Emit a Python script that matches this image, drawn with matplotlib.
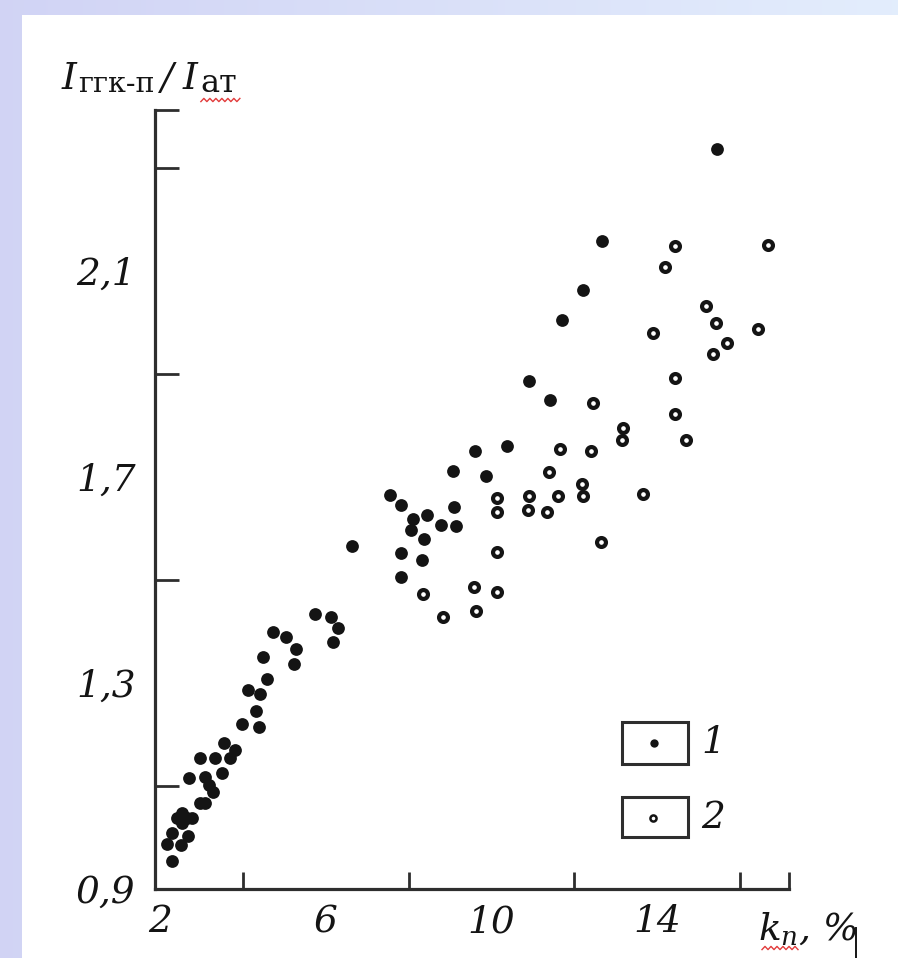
import numpy as np
import matplotlib
matplotlib.use('Agg')
import matplotlib.pyplot as plt
from matplotlib.patches import Rectangle
from matplotlib.lines import Line2D

W, H, DPI = 898, 958, 100

# ---- data ----
# series 1: solid dots
x1 = [2.29, 2.16, 2.50, 2.29, 2.67, 2.41, 2.53, 2.65, 2.77, 2.53,
      2.96, 3.08, 2.70, 3.08, 3.18, 3.28, 3.49, 2.96, 3.32, 3.69,
      3.81, 3.54, 3.98, 4.39, 4.31, 4.12, 4.41, 4.58, 4.48, 4.72,
      5.04, 5.28, 5.23, 5.74, 6.13, 6.29, 6.17, 6.63, 7.55, 7.82,
      8.11, 8.06, 8.44, 8.37, 7.82, 8.32, 7.82, 8.78, 9.14, 9.10,
      9.07, 9.60, 9.87, 10.38, 10.91, 11.42, 11.71, 12.21, 12.67, 15.45]
y1 = [0.954, 0.987, 0.985, 1.009, 1.003, 1.038, 1.048, 1.038, 1.038, 1.028,
      1.067, 1.067, 1.116, 1.117, 1.102, 1.088, 1.125, 1.154, 1.154, 1.154,
      1.170, 1.183, 1.220, 1.215, 1.246, 1.286, 1.279, 1.308, 1.350, 1.399,
      1.389, 1.366, 1.337, 1.434, 1.428, 1.407, 1.380, 1.566, 1.665, 1.646,
      1.618, 1.597, 1.626, 1.580, 1.552, 1.539, 1.506, 1.607, 1.605, 1.642,
      1.712, 1.750, 1.702, 1.760, 1.886, 1.850, 2.005, 2.063, 2.158, 2.337]
# series 2: open circles
x2 = [8.35, 8.83, 9.58, 9.63, 10.14, 10.14, 10.14, 10.14, 10.91, 10.88,
      11.34, 11.61, 11.39, 11.66, 12.19, 12.21, 12.41, 12.45, 12.65, 13.15,
      13.18, 13.66, 13.90, 14.19, 14.43, 14.43, 14.43, 14.70, 15.18, 15.35,
      15.42, 15.69, 16.44, 16.68]
y2 = [1.473, 1.428, 1.486, 1.440, 1.477, 1.554, 1.659, 1.632, 1.663, 1.636,
      1.632, 1.663, 1.710, 1.754, 1.686, 1.663, 1.750, 1.844, 1.574, 1.772,
      1.795, 1.667, 1.980, 2.108, 2.149, 1.892, 1.822, 1.772, 2.032, 1.939,
      1.999, 1.960, 1.987, 2.150]

x_label_ticks = [2, 6, 10, 14]
x_tick_labels = ['2', '6', '10', '14']
x_marks = [4, 6, 8, 10, 12, 14, 16]
y_label_ticks = [0.9, 1.3, 1.7, 2.1]
y_tick_labels = ['0,9', '1,3', '1,7', '2,1']
y_marks = [1.1, 1.3, 1.5, 1.7, 1.9, 2.1, 2.3]
legend_labels = ['1', '2']
XLIM = (1.87, 17.19)
YLIM = (0.9, 2.413)

plt.rcParams['font.family'] = ['DejaVu Serif']
plt.rcParams['mathtext.fontset'] = 'custom'
plt.rcParams['mathtext.it'] = 'DejaVu Serif:italic'
plt.rcParams['mathtext.rm'] = 'DejaVu Serif'

INK = '#141414'
AXC = '#2e2e2e'

fig = plt.figure(figsize=(W / DPI, H / DPI), dpi=DPI)
fig.patch.set_facecolor('white')

# slide background frame (lavender/blue strip on left and top)
bg = fig.add_axes([0, 0, 1, 1], zorder=-10)
xx = np.linspace(0, 1, W)[None, :, None]
lav = np.array([0.82, 0.83, 0.96])
blu = np.array([0.89, 0.93, 0.99])
img = np.ones((H, W, 3)) * (lav * (1 - xx) + blu * xx)
img[15:, 22:, :] = 1.0
bg.imshow(img, aspect='auto', extent=(0, 1, 0, 1), origin='upper')
bg.axis('off')

ax = fig.add_axes([155 / W, (H - 889) / H, (789 - 155) / W, (889 - 110) / H])
ax.patch.set_alpha(0)
ax.set_xlim(*XLIM)
ax.set_ylim(*YLIM)
for s in ['top', 'right']:
    ax.spines[s].set_visible(False)
for s in ['left', 'bottom']:
    ax.spines[s].set_linewidth(2.3)
    ax.spines[s].set_color(AXC)

ax.plot(x1, y1, 'o', ms=9.2, color=INK, mew=0, clip_on=False)
ax.plot(x2, y2, 'o', ms=6.4, mfc='white', mec=INK, mew=3.0, clip_on=False)

ax.set_xticks(x_label_ticks)
ax.set_xticklabels(x_tick_labels)
ax.set_xticks(x_marks + [XLIM[1]], minor=True)
ax.set_yticks(y_label_ticks)
ax.set_yticklabels(y_tick_labels)
ax.set_yticks(y_marks + [YLIM[1]], minor=True)
ax.tick_params(axis='x', which='major', length=0, pad=11, labelsize=27, labelcolor=INK)
ax.tick_params(axis='y', which='major', length=0, pad=14, labelsize=27, labelcolor=INK)
ax.tick_params(axis='x', which='minor', direction='in', length=12, width=2.0, color=AXC)
ax.tick_params(axis='y', which='minor', direction='in', length=17, width=2.0, color=AXC)
for lbl in ax.get_xticklabels() + ax.get_yticklabels():
    lbl.set_fontstyle('italic')

# legend: framed markers with labels
def px2ax(px, py):
    return ((px - 155) / (789 - 155), (889 - py) / (889 - 110))

for (bx0, by0, bx1, by1), (mx, my), lab, kind in [
        ((622, 722, 688, 764), (654, 743), legend_labels[0], 'solid'),
        ((622, 797, 688, 837), (653, 818), legend_labels[1], 'open')]:
    a0 = px2ax(bx0, by1)
    a1 = px2ax(bx1, by0)
    ax.add_patch(Rectangle(a0, a1[0] - a0[0], a1[1] - a0[1], transform=ax.transAxes,
                           fill=False, lw=2.2, ec=AXC, clip_on=False))
    m = px2ax(mx, my)
    if kind == 'solid':
        ax.plot([m[0]], [m[1]], 'o', ms=6, color=INK, mew=0, transform=ax.transAxes, clip_on=False)
    else:
        ax.plot([m[0]], [m[1]], 'o', ms=4.4, mfc='white', mec=INK, mew=1.8,
                transform=ax.transAxes, clip_on=False)
    t = px2ax(701, my)
    ax.text(t[0], t[1], lab, transform=ax.transAxes, fontsize=27, fontstyle='italic',
            ha='left', va='center', color=INK)

# axis label x
fig.text(758 / W, 1 - 940 / H, r'$k_n$, %', fontsize=27, fontstyle='italic',
         ha='left', va='baseline', color=INK)

# axis label y built from pieces
renderer = fig.canvas.get_renderer()
def chain(pieces, x0, y0):
    x = x0
    spans = []
    for txt, size, style, dy, gap in pieces:
        x += gap
        t = fig.text(x / W, 1 - (y0 + dy) / H, txt, fontsize=size, fontstyle=style,
                     ha='left', va='baseline', color=INK)
        bb = t.get_window_extent(renderer)
        spans.append((bb.x0, bb.x1))
        x = bb.x1
    return spans

spans = chain([('I', 27, 'italic', 0, 0),
               ('ггк-п', 20.5, 'normal', 3, 1),
               ('/', 27, 'italic', 0, 7),
               ('I', 27, 'italic', 0, 9),
               ('ат', 23, 'normal', 3, 3)], 62, 89)

# spell-check wavy underlines and the text cursor seen in the reference
def wavy(x0, x1, y, amp=1.6, step=3.0):
    n = int((x1 - x0) / step) + 1
    xs = x0 + np.arange(n) * step
    ys = y + amp * np.where(np.arange(n) % 2 == 0, 1, -1)
    fig.add_artist(Line2D(xs / W, 1 - ys / H, transform=fig.transFigure,
                          color='#e23b3b', lw=1.0))

wavy(spans[4][0], spans[4][1] + 4, 100)
wavy(762, 800, 948)
fig.add_artist(Line2D([856 / W, 856 / W], [1 - 928 / H, 0], transform=fig.transFigure,
                      color=INK, lw=1.4))

fig.savefig('out.png', dpi=DPI)
